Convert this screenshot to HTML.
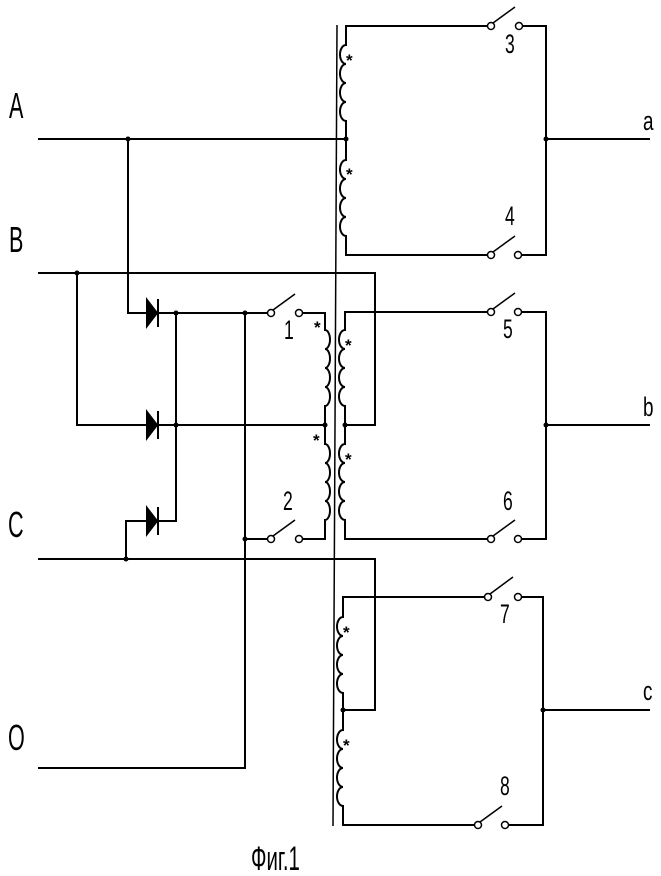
<!DOCTYPE html>
<html><head><meta charset="utf-8"><style>
html,body{margin:0;padding:0;background:#fff}
svg{display:block}
.t{font-family:"Liberation Sans",sans-serif;fill:#000}
</style></head><body>
<svg width="661" height="876" viewBox="0 0 661 876" xmlns="http://www.w3.org/2000/svg">
<g fill="none" stroke="#000" stroke-width="2">
<line x1="337" y1="25" x2="333" y2="826" stroke-width="1.5"/>
<path d="M491 26 H346 V45 a6 9.5 0 0 0 0 19 a6 9.5 0 0 0 0 19 a6 9.5 0 0 0 0 19 a6 9.5 0 0 0 0 19 V160 a6 9.5 0 0 0 0 19 a6 9.5 0 0 0 0 19 a6 9.5 0 0 0 0 19 a6 9.5 0 0 0 0 19 V255 H487"/>
<path d="M521 26 H546 V255 H521"/>
<line x1="38" y1="139" x2="346" y2="139"/>
<line x1="546" y1="139" x2="650" y2="139"/>
<path d="M491 312 H345 V330 a6 9.5 0 0 0 0 19 a6 9.5 0 0 0 0 19 a6 9.5 0 0 0 0 19 a6 9.5 0 0 0 0 19 V444 a6 9.5 0 0 0 0 19 a6 9.5 0 0 0 0 19 a6 9.5 0 0 0 0 19 a6 9.5 0 0 0 0 19 V539 H487"/>
<path d="M521 312 H546 V539 H521"/>
<line x1="546" y1="425" x2="650" y2="425"/>
<path d="M488 597 H343 V617 a6 9.5 0 0 0 0 19 a6 9.5 0 0 0 0 19 a6 9.5 0 0 0 0 19 a6 9.5 0 0 0 0 19 V730 a6 9.5 0 0 0 0 19 a6 9.5 0 0 0 0 19 a6 9.5 0 0 0 0 19 a6 9.5 0 0 0 0 19 V825 H475"/>
<path d="M518 597 H543 V825 H508"/>
<line x1="543" y1="710" x2="650" y2="710"/>
<path d="M303 313 H325 V330 a5 9.5 0 0 1 0 19 a5 9.5 0 0 1 0 19 a5 9.5 0 0 1 0 19 a5 9.5 0 0 1 0 19 V444 a5 9.5 0 0 1 0 19 a5 9.5 0 0 1 0 19 a5 9.5 0 0 1 0 19 a5 9.5 0 0 1 0 19 V539 H303"/>
<path d="M38 273 H375 V425 H345"/>
<path d="M77 273 V425 H325"/>
<path d="M128 139 V313 H267"/>
<path d="M176 313 V521 H150"/>
<path d="M38 559 H375 V710 H343"/>
<path d="M126 559 V521 H150"/>
<path d="M38 768 H245 V313"/>
<line x1="245" y1="539" x2="267" y2="539"/>
<g stroke-width="1.5" fill="#fff">
<circle cx="491" cy="26" r="3.5"/><circle cx="519" cy="26" r="3.5"/>
<circle cx="491" cy="255" r="3.5"/><circle cx="518" cy="255" r="3.5"/>
<circle cx="491" cy="312" r="3.5"/><circle cx="518" cy="312" r="3.5"/>
<circle cx="491" cy="539" r="3.5"/><circle cx="518" cy="539" r="3.5"/>
<circle cx="488" cy="597" r="3.5"/><circle cx="518" cy="597" r="3.5"/>
<circle cx="478" cy="825" r="3.5"/><circle cx="505" cy="825" r="3.5"/>
<circle cx="271" cy="313" r="3.5"/><circle cx="299" cy="313" r="3.5"/>
<circle cx="271" cy="539" r="3.5"/><circle cx="299" cy="539" r="3.5"/>
</g>
<g stroke-width="1.5">
<line x1="493" y1="23" x2="515" y2="7"/>
<line x1="493" y1="252" x2="515" y2="236"/>
<line x1="493" y1="309" x2="515" y2="293"/>
<line x1="493" y1="536" x2="515" y2="520"/>
<line x1="490" y1="594" x2="513" y2="577"/>
<line x1="480" y1="822" x2="502" y2="806"/>
<line x1="273" y1="310" x2="295" y2="294"/>
<line x1="273" y1="536" x2="295" y2="520"/>
</g>
</g>
<g fill="#000" stroke="#000" stroke-width="2">
<polygon points="147,300 157,313 147,326"/><line x1="158" y1="299" x2="158" y2="327"/>
<polygon points="147,412 157,425 147,438"/><line x1="158" y1="411" x2="158" y2="439"/>
<polygon points="147,508 157,521 147,534"/><line x1="158" y1="507" x2="158" y2="535"/>
</g>
<g fill="#000">
<circle cx="128" cy="139" r="2.5"/><circle cx="346" cy="139" r="2.5"/><circle cx="546" cy="139" r="2.5"/>
<circle cx="77" cy="273" r="2.5"/><circle cx="176" cy="313" r="2.5"/><circle cx="176" cy="425" r="2.5"/>
<circle cx="245" cy="313" r="2.5"/><circle cx="245" cy="539" r="2.5"/>
<circle cx="325" cy="425" r="2.5"/><circle cx="345" cy="425" r="2.5"/><circle cx="546" cy="425" r="2.5"/>
<circle cx="126" cy="559" r="2.5"/><circle cx="343" cy="710" r="2.5"/><circle cx="543" cy="710" r="2.5"/>
</g>
<g class="t" font-size="17" font-weight="bold">
<text x="346" y="66">*</text><text x="346" y="180">*</text>
<text x="345" y="351">*</text><text x="345" y="465">*</text>
<text x="343" y="638">*</text><text x="343" y="751">*</text>
<text x="314" y="333">*</text><text x="313" y="446">*</text>
</g>
<g class="t" font-size="36">
<text transform="translate(9,118) scale(0.6,1)">A</text>
<text transform="translate(9,252) scale(0.6,1)">B</text>
<text transform="translate(8,537) scale(0.6,1)">C</text>
<text transform="translate(8,750) scale(0.6,1)">O</text>
</g>
<g class="t" font-size="27">
<text transform="translate(505,53) scale(0.65,1)">3</text>
<text transform="translate(505,225) scale(0.65,1)">4</text>
<text transform="translate(503,338) scale(0.65,1)">5</text>
<text transform="translate(503,510) scale(0.65,1)">6</text>
<text transform="translate(500,623) scale(0.65,1)">7</text>
<text transform="translate(500,795) scale(0.65,1)">8</text>
<text transform="translate(284,339) scale(0.65,1)">1</text>
<text transform="translate(283,510) scale(0.65,1)">2</text>
<text transform="translate(643,130) scale(0.7,1)">a</text>
<text transform="translate(643,416) scale(0.7,1)">b</text>
<text transform="translate(643,700) scale(0.7,1)">c</text>
</g>
<text class="t" font-size="34" transform="translate(251,870) scale(0.6,1)">Фиг.1</text>
</svg>
</body></html>
